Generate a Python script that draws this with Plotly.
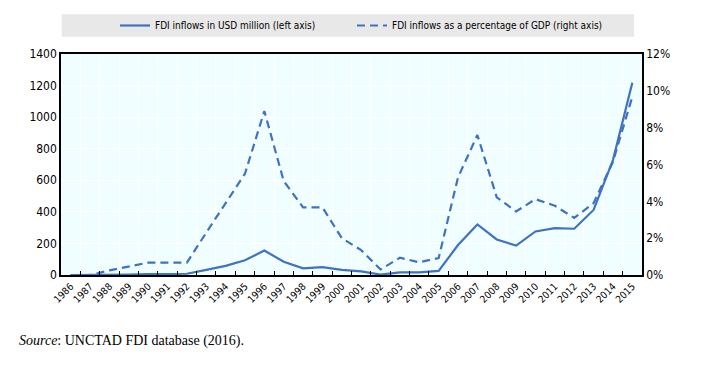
import plotly.graph_objects as go

years = [str(y) for y in range(1986, 2016)]
fdi_usd_million = [0, 0, 2, 3, 5, 5, 8, 32, 58, 93, 155, 84, 42, 50, 33, 23, 2, 17, 17, 26,
                   190, 320, 225, 186, 276, 297, 293, 412, 728, 1218]
fdi_pct_gdp = [0.0, 0.0, 0.25, 0.45, 0.67, 0.67, 0.67, 2.3, 3.9, 5.5, 8.9, 5.1, 3.67, 3.67,
               2.0, 1.35, 0.3, 0.94, 0.69, 0.92, 5.3, 7.6, 4.22, 3.45, 4.12, 3.76, 3.1, 3.9,
               6.15, 9.68]

left_ticks = [0, 200, 400, 600, 800, 1000, 1200, 1400]
right_ticks = [0, 2, 4, 6, 8, 10, 12]
right_labels = ["0%", "2%", "4%", "6%", "8%", "10%", "12%"]

BLUE = "#3f72c0"
FONT = "Liberation Sans Narrow, Arial Narrow, DejaVu Sans Condensed, Liberation Sans, sans-serif"

# page has an 8px body margin: figure coords = page coords - 8
W, H = 694, 350
PL, PR, PT, PB = 61, 642, 54, 275  # plot area in page pixels
PW, PH = PR - PL, PB - PT

fig = go.Figure()
fig.add_trace(go.Scatter(x=years, y=fdi_usd_million, mode="lines",
                         name="FDI inflows in USD million (left axis)",
                         line=dict(color=BLUE, width=2.2), yaxis="y", legend="legend"))
fig.add_trace(go.Scatter(x=years, y=fdi_pct_gdp, mode="lines",
                         name="FDI inflows as a percentage of GDP (right axis)",
                         line=dict(color=BLUE, width=2.2, dash="8px,5px"), yaxis="y2",
                         legend="legend2"))

legend_common = dict(orientation="h", xref="container", yref="container",
                     xanchor="left", yanchor="middle", bgcolor="rgba(0,0,0,0)",
                     font=dict(size=10, family=FONT), itemwidth=30)

fig.update_layout(
    width=W, height=H,
    margin=dict(l=PL - 8, r=W - (PR - 8), t=PT - 8, b=H - (PB - 8), autoexpand=False),
    paper_bgcolor="white",
    plot_bgcolor="#f0feff",
    font=dict(family=FONT, size=11, color="black"),
    showlegend=True,
    legend=dict(legend_common, x=(115 - 8) / W, y=1 - (25.5 - 8) / H),
    legend2=dict(legend_common, x=(352 - 8) / W, y=1 - (25.5 - 8) / H),
    xaxis=dict(type="category", range=[-0.5, 29.5], tickson="boundaries",
               showgrid=True, gridcolor="white", gridwidth=1,
               ticks="inside", ticklen=4, tickcolor="black",
               showline=True, linecolor="black", linewidth=1.5, mirror=True,
               tickangle=-45, tickfont=dict(size=10, family=FONT)),
    yaxis=dict(range=[0, 1400], tickvals=left_ticks, showgrid=True, gridcolor="white",
               gridwidth=1, showline=True, linecolor="black", linewidth=1.5,
               ticks="", zeroline=False, tickfont=dict(size=12, family=FONT)),
    yaxis2=dict(range=[0, 12], tickvals=right_ticks, ticktext=right_labels,
                overlaying="y", side="right", showgrid=False, showline=True,
                linecolor="black", linewidth=1.5, ticks="", zeroline=False,
                tickfont=dict(size=12, family=FONT)),
)

fig.add_shape(type="rect", xref="paper", yref="paper",
              x0=(61.7 - PL) / PW, x1=(634 - PL) / PW,
              y0=(PB - 36.7) / PH, y1=(PB - 14.3) / PH,
              fillcolor="#e8e8e8", line=dict(width=0), layer="below")

fig.add_annotation(text="<i>Source</i>: UNCTAD FDI database (2016).",
                   xref="paper", yref="paper", x=(17 - PL) / PW, y=(PB - 341) / PH,
                   xanchor="left", yanchor="middle", showarrow=False,
                   font=dict(family="Liberation Serif, Times New Roman, serif", size=14, color="black"))

fig.write_html("out.html")
